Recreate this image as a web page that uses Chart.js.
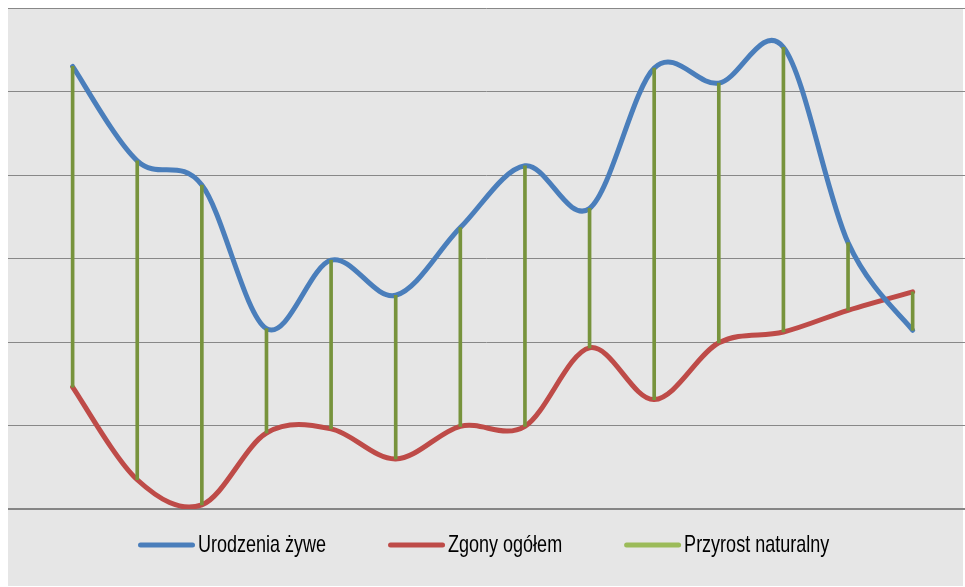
<!DOCTYPE html>
<html>
<head>
<meta charset="utf-8">
<script src="https://cdn.jsdelivr.net/npm/chart.js@4"></script>
<style>
  html, body { margin: 0; padding: 0; background: #ffffff; }
  #wrap { width: 965px; height: 587px; }
</style>
</head>
<body>
<div id="wrap"><canvas id="chart" width="965" height="587"></canvas></div>
<script>
// categories (no labels visible in the original, one per period)
const categories = ['1', '2', '3', '4', '5', '6', '7', '8', '9', '10', '11', '12', '13', '14'];

// values (gridline step = 1)
const births = [5.30, 4.17, 3.88, 2.16, 2.98, 2.56, 3.37, 4.11, 3.60, 5.28, 5.10, 5.53, 3.19, 2.14];
const deaths = [1.46, 0.35, 0.05, 0.91, 0.96, 0.60, 0.99, 0.99, 1.93, 1.31, 1.99, 2.12, 2.38, 2.60];

const yTicks = [0, 1, 2, 3, 4, 5, 6];

const seriesNames = ['Urodzenia żywe', 'Zgony ogółem', 'Przyrost naturalny'];
const legendColors = ['#4A7EBB', '#BE4B48', '#9BBB59'];

const births_pts = births.map((v, i) => ({ x: i, y: v }));
const deaths_pts = deaths.map((v, i) => ({ x: i, y: v }));
// natural increase drawn as a thin floating bar between deaths and births
const growth_pts = births.map((v, i) => ({ x: i, y: [deaths[i], v] }));

// grey panel behind the plot and legend
const backgroundPlugin = {
  id: 'panel',
  beforeDraw(chart) {
    const { ctx, chartArea } = chart;
    ctx.save();
    ctx.fillStyle = '#e6e6e6';
    ctx.fillRect(chartArea.left, chartArea.top, 963 - chartArea.left, chart.height - 1 - chartArea.top);
    ctx.restore();
  }
};

// Excel style smoothing: uniform Catmull-Rom control points instead of Chart.js splines
const smoothPlugin = {
  id: 'xlSmooth',
  beforeDatasetsDraw(chart) {
    chart.data.datasets.forEach((ds, di) => {
      if (ds.type !== 'line') return;
      const meta = chart.getDatasetMeta(di);
      meta.dataset.updateControlPoints(chart.chartArea, 'x');
      const pts = meta.data;
      const n = pts.length;
      for (let i = 0; i < n; i++) {
        const prev = pts[Math.max(i - 1, 0)];
        const next = pts[Math.min(i + 1, n - 1)];
        const tx = (next.x - prev.x) / 6;
        const ty = (next.y - prev.y) / 6;
        pts[i].cp1x = pts[i].x - tx;
        pts[i].cp1y = pts[i].y - ty;
        pts[i].cp2x = pts[i].x + tx;
        pts[i].cp2y = pts[i].y + ty;
      }
    });
  }
};

// Excel-like legend: long line sample, squeezed text
const legendPlugin = {
  id: 'xlLegend',
  afterDraw(chart) {
    const ctx = chart.ctx;
    let x = 138;
    const y = 545;
    const sx = 0.75;
    ctx.save();
    ctx.font = '24px "Liberation Sans", Arial, sans-serif';
    seriesNames.forEach((name, i) => {
      ctx.strokeStyle = legendColors[i];
      ctx.lineWidth = 5;
      ctx.lineCap = 'round';
      ctx.beginPath();
      ctx.moveTo(x + 2.5, y);
      ctx.lineTo(x + 54.5, y);
      ctx.stroke();

      const tx = x + 60;
      ctx.save();
      ctx.translate(tx, 552);
      ctx.scale(sx, 1);
      ctx.fillStyle = '#000000';
      ctx.textBaseline = 'alphabetic';
      ctx.fillText(name, 0, 0);
      ctx.restore();
      const w = ctx.measureText(name).width * sx;
      x = tx + w + 62;
    });
    ctx.restore();
  }
};

new Chart(document.getElementById('chart'), {
  data: {
    labels: categories,
    datasets: [
      {
        type: 'bar',
        label: seriesNames[2],
        data: growth_pts,
        backgroundColor: '#77933C',
        borderWidth: 0,
        barThickness: 3,
        order: 0
      },
      {
        type: 'line',
        label: seriesNames[0],
        data: births_pts,
        borderColor: '#4A7EBB',
        borderWidth: 5,
        borderCapStyle: 'round',
        pointRadius: 0,
        tension: 0.5,
        fill: false,
        order: 1
      },
      {
        type: 'line',
        label: seriesNames[1],
        data: deaths_pts,
        borderColor: '#BE4B48',
        borderWidth: 5,
        borderCapStyle: 'round',
        pointRadius: 0,
        tension: 0.5,
        fill: false,
        order: 2
      }
    ]
  },
  options: {
    responsive: false,
    animation: false,
    layout: { padding: { left: 8, top: 8, right: 0, bottom: 78 } },
    plugins: {
      legend: { display: false },
      tooltip: { enabled: false }
    },
    scales: {
      x: {
        type: 'linear',
        display: false,
        min: -1,
        max: 13.81,
        offset: false
      },
      y: {
        min: yTicks[0],
        max: yTicks[yTicks.length - 1],
        afterBuildTicks(scale) {
          scale.ticks = yTicks.map(v => ({ value: v }));
        },
        afterFit(scale) { scale.width = 0; },
        ticks: { display: false },
        border: { display: false },
        grid: {
          drawTicks: false,
          color: (c) => c.tick && c.tick.value === 0 ? '#858585' : '#888888',
          lineWidth: (c) => c.tick && c.tick.value === 0 ? 2 : 1
        }
      }
    }
  },
  plugins: [backgroundPlugin, smoothPlugin, legendPlugin]
});
</script>
</body>
</html>
